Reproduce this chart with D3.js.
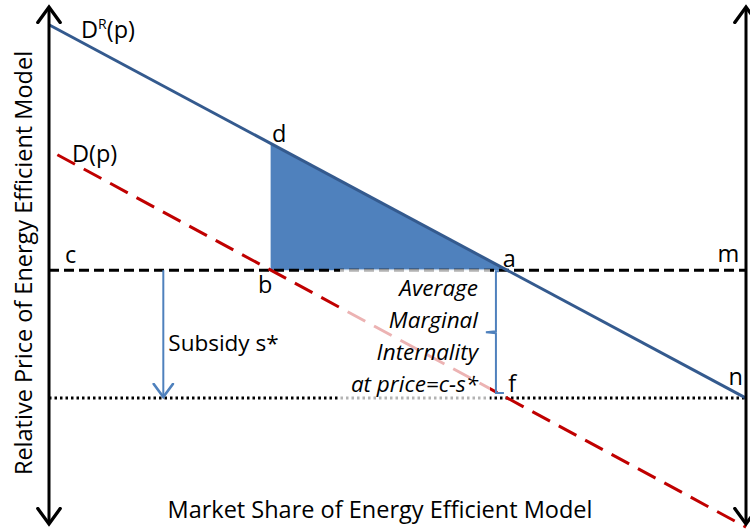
<!DOCTYPE html>
<html>
<head>
<meta charset="utf-8">
<script src="https://cdn.jsdelivr.net/npm/d3@7"></script>
<style>
  html, body { margin: 0; padding: 0; background: #fff; }
  svg { display: block; }
  text { font-family: "Open Sans", Lato, sans-serif; fill: #000; }
</style>
</head>
<body>
<svg id="chart" width="750" height="531"></svg>
<script>
// ---- data (quantity = market share 0..100, price 0..100) ----
const demandRelevant = [{q: 0, p: 96.2}, {q: 100, p: 24.4}];   // D^R(p)
const demandPerceived = [{q: 1.2, p: 71.2}, {q: 100, p: -0.4}]; // D(p)
const priceLevels = [
  {name: "c", p: 49.0, style: "dashed"},
  {name: "c-s*", p: 24.4, style: "dotted"}
];
const quantities = {b: 31.8, a: 65.7, subsidyArrow: 16.4};
const welfareTriangle = [{q: 31.8, p: 73.4}, {q: 31.8, p: 49.0}, {q: 65.7, p: 49.0}];
const pointLabels = [
  {t: "d", q: 32.0, p: 73.4},
  {t: "c", q: 2.3, p: 49.0},
  {t: "b", q: 30.0, p: 49.0},
  {t: "a", q: 65.1, p: 49.0},
  {t: "m", q: 95.9, p: 49.0},
  {t: "n", q: 97.5, p: 24.4},
  {t: "f", q: 65.9, p: 24.4}
];
const xTitle = "Market Share of Energy Efficient Model";
const yTitle = "Relative Price of Energy Efficient Model";
const braceText = ["Average", "Marginal", "Internality", "at price=c-s*"];

// ---- scales ----
const x = d3.scaleLinear().domain([0, 100]).range([49, 746]);
const y = d3.scaleLinear().domain([0, 100]).range([525, 5]);
const FS = 23.5;

const svg = d3.select("#chart");
const defs = svg.append("defs");
function stickArrow(id, color, size, w) {
  defs.append("marker").attr("id", id)
    .attr("viewBox", "-12 -10 14 20").attr("refX", 0).attr("refY", 0)
    .attr("markerUnits", "userSpaceOnUse")
    .attr("markerWidth", size * 1.4).attr("markerHeight", size * 2)
    .attr("orient", "auto-start-reverse")
    .append("path").attr("d", "M-11,-8 L0,0 L-11,8")
    .attr("fill", "none").attr("stroke", color).attr("stroke-width", w)
    .attr("stroke-linecap", "round").attr("stroke-linejoin", "miter");
}
stickArrow("axArrow", "#000", 14, 2.4);
stickArrow("blueArrow", "#4f81bd", 12, 2.2);

const line = d3.line().x(d => x(d.q)).y(d => y(d.p));

// shaded triangle
svg.append("path").datum(welfareTriangle)
  .attr("d", d => line(d) + "Z").attr("fill", "#4f81bd");

// price level lines
svg.selectAll("line.price").data(priceLevels).join("line")
  .attr("class", "price")
  .attr("x1", x(0)).attr("x2", x(100))
  .attr("y1", d => y(d.p)).attr("y2", d => y(d.p))
  .attr("stroke", "#000").attr("stroke-width", 3)
  .attr("stroke-dasharray", d => d.style === "dashed" ? "10,5" : "2.5,3");

// demand curves
svg.append("path").datum(demandPerceived).attr("d", line)
  .attr("fill", "none").attr("stroke", "#c00000").attr("stroke-width", 3)
  .attr("stroke-dasharray", "20,10");
svg.append("path").datum(demandRelevant).attr("d", line)
  .attr("fill", "none").attr("stroke", "#345a8e").attr("stroke-width", 3);

// semi transparent text box
svg.append("rect")
  .attr("x", 340).attr("y", y(priceLevels[0].p) - 1)
  .attr("width", 150).attr("height", y(priceLevels[1].p) - y(priceLevels[0].p) + 3)
  .attr("fill", "#fff").attr("opacity", 0.7);

// axes (double headed)
[0, 100].forEach(q => {
  svg.append("line")
    .attr("x1", x(q)).attr("x2", x(q))
    .attr("y1", y(100) + 2).attr("y2", y(0) - 1)
    .attr("stroke", "#000").attr("stroke-width", 3)
    .attr("marker-start", "url(#axArrow)").attr("marker-end", "url(#axArrow)");
});

// subsidy arrow
svg.append("line")
  .attr("x1", x(quantities.subsidyArrow)).attr("x2", x(quantities.subsidyArrow))
  .attr("y1", y(priceLevels[0].p)).attr("y2", y(priceLevels[1].p) - 1)
  .attr("stroke", "#4f81bd").attr("stroke-width", 2)
  .attr("marker-end", "url(#blueArrow)");
svg.append("text").attr("x", x(quantities.subsidyArrow) + 5).attr("y", 351)
  .attr("font-size", FS - 1).text("Subsidy s*");

// brace
const bx = x(quantities.a) - 11;
const yTop = y(priceLevels[0].p) + 1, yBot = y(priceLevels[1].p) - 5;
const yMid = (yTop + yBot) / 2;
svg.append("path")
  .attr("d", `M${bx + 3},${yTop} L${bx},${yTop} L${bx},${yMid - 1} L${bx - 10},${yMid} L${bx},${yMid + 1} L${bx},${yBot} L${bx + 8},${yBot}`)
  .attr("fill", "none").attr("stroke", "#4f81bd").attr("stroke-width", 2);

// brace text
svg.selectAll("text.brace").data(braceText).join("text")
  .attr("class", "brace")
  .attr("x", 478).attr("y", (d, i) => 296 + i * 32)
  .attr("text-anchor", "end").attr("font-style", "italic").attr("font-size", FS - 1)
  .text(d => d);

// curve labels
const dr = svg.append("text").attr("x", 81).attr("y", 38).attr("font-size", FS);
dr.append("tspan").text("D");
dr.append("tspan").attr("font-size", 14).attr("dy", -9).text("R");
dr.append("tspan").attr("dy", 9).text("(p)");
svg.append("text").attr("x", 72).attr("y", 162).attr("font-size", FS).text("D(p)");

// point labels
const labelOffset = {d: -1, c: -7, b: 23, a: -3, m: -8, n: -13, f: -6};
svg.selectAll("text.pt").data(pointLabels).join("text")
  .attr("class", "pt")
  .attr("x", d => x(d.q)).attr("y", d => y(d.p) + labelOffset[d.t])
  .attr("font-size", FS).text(d => d.t);

// axis titles
svg.append("text").attr("x", 380).attr("y", 518).attr("text-anchor", "middle")
  .attr("font-size", FS).text(xTitle);
svg.append("text").attr("transform", "translate(32,263) rotate(-90)")
  .attr("text-anchor", "middle").attr("font-size", FS).text(yTitle);
</script>
</body>
</html>
